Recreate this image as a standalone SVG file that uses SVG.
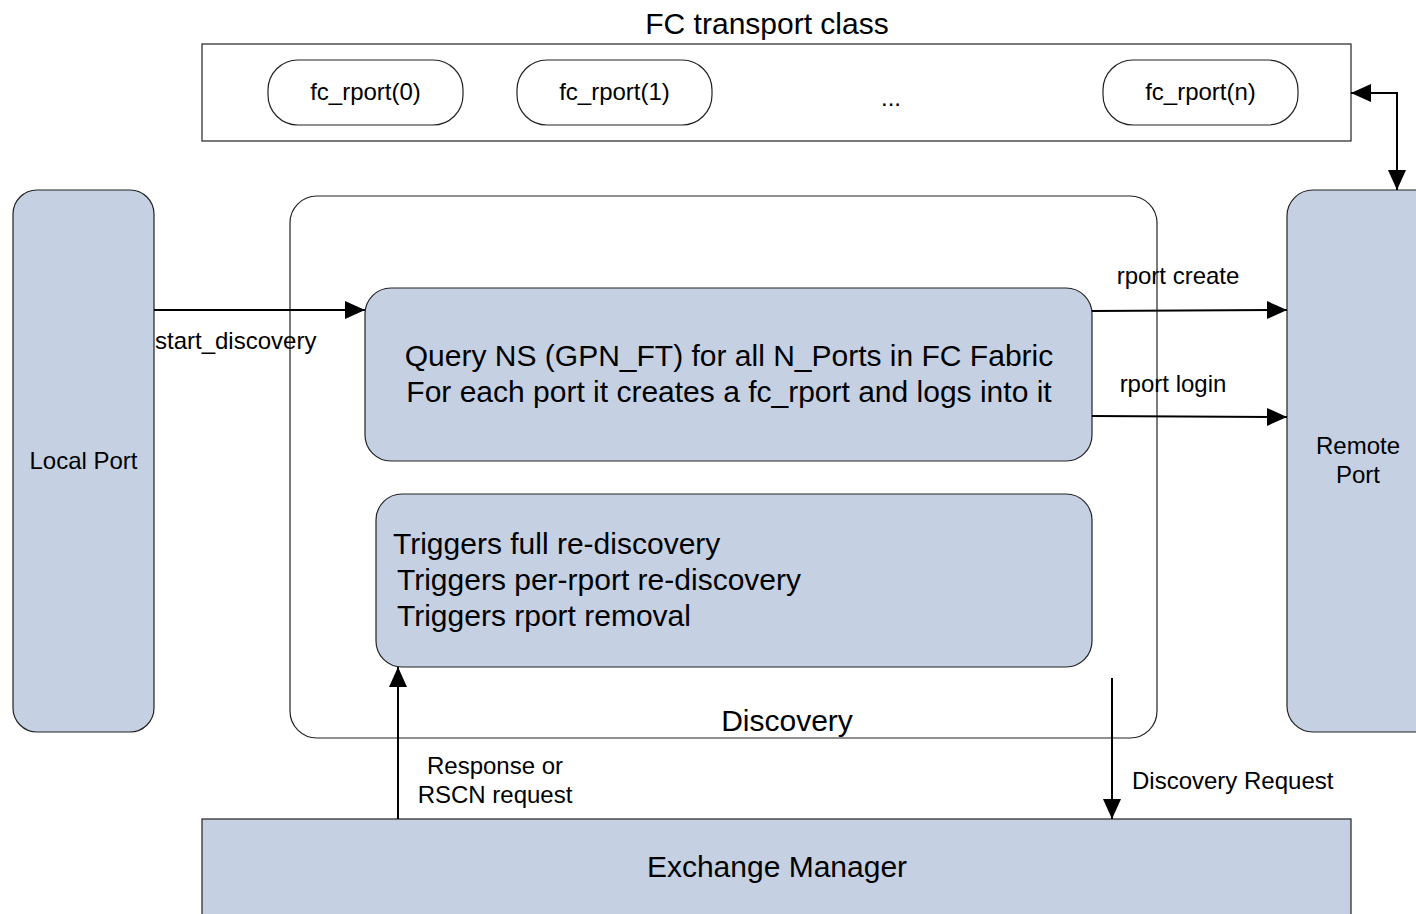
<svg xmlns="http://www.w3.org/2000/svg" width="1416" height="914" viewBox="0 0 1416 914">
<defs>
<style>
text{font-family:"Liberation Sans",Arial,sans-serif;fill:#000}
.box{fill:#c5d1e3;stroke:#222;stroke-width:1.2}
.wbox{fill:#fff;stroke:#222;stroke-width:1.2}
.conn{stroke:#000;stroke-width:2;fill:none}
.s17{font-size:24px}
.s22{font-size:30px}
</style>
<marker id="ahb" viewBox="0 0 20 20" refX="20" refY="10" markerWidth="20" markerHeight="20" markerUnits="userSpaceOnUse" orient="auto-start-reverse">
<path d="M0,1 L20,10 L0,19 Z" fill="#000"/>
</marker>
</defs>
<rect width="1416" height="914" fill="#fff"/>
<g id="fc-transport">
<text x="767" y="34" text-anchor="middle" class="s22">FC transport class</text>
<rect x="202" y="44" width="1149" height="97" class="wbox"/>
<text x="891" y="106" text-anchor="middle" class="s17">...</text>
</g>
<g id="fc_rport0"><rect x="268" y="60" width="195" height="65" rx="30" class="wbox"/><text x="365.5" y="100" text-anchor="middle" class="s17">fc_rport(0)</text></g>
<g id="fc_rport1"><rect x="517" y="60" width="195" height="65" rx="30" class="wbox"/><text x="614.5" y="100" text-anchor="middle" class="s17">fc_rport(1)</text></g>
<g id="fc_rportn"><rect x="1103" y="60" width="195" height="65" rx="30" class="wbox"/><text x="1200.5" y="100" text-anchor="middle" class="s17">fc_rport(n)</text></g>
<g id="local-port"><rect x="13" y="190" width="141" height="542" rx="24" class="box"/><text x="83.5" y="469" text-anchor="middle" class="s17">Local Port</text></g>
<g id="discovery"><rect x="290" y="196" width="867" height="542" rx="27" class="wbox"/><text x="787" y="731" text-anchor="middle" class="s22">Discovery</text></g>
<g id="query"><rect x="365" y="288" width="727" height="173" rx="26" class="box"/>
<text x="729" y="366" text-anchor="middle" class="s22">Query NS (GPN_FT) for all N_Ports in FC Fabric</text>
<text x="729" y="402" text-anchor="middle" class="s22">For each port it creates a fc_rport and logs into it</text></g>
<g id="triggers"><rect x="376" y="494" width="716" height="173" rx="26" class="box"/>
<text x="393" y="554" class="s22">Triggers full re-discovery</text>
<text x="397" y="590" class="s22">Triggers per-rport re-discovery</text>
<text x="397" y="626" class="s22">Triggers rport removal</text></g>
<g id="remote-port"><rect x="1287" y="190" width="160" height="542" rx="26" class="box"/><text x="1358" y="454" text-anchor="middle" class="s17">Remote</text><text x="1358" y="483" text-anchor="middle" class="s17">Port</text></g>
<g id="exchange-manager"><rect x="202" y="819" width="1149" height="110" class="box"/><text x="777" y="877" text-anchor="middle" class="s22">Exchange Manager</text></g>
<g id="connectors">
<path d="M1351,93 H1397 V190" class="conn" marker-start="url(#ahb)" marker-end="url(#ahb)"/>
<path d="M154,310 H365" class="conn" marker-end="url(#ahb)"/>
<path d="M1092,311 L1287,310" class="conn" marker-end="url(#ahb)"/>
<path d="M1092,416 L1287,417" class="conn" marker-end="url(#ahb)"/>
<path d="M398,819 V667" class="conn" marker-end="url(#ahb)"/>
<path d="M1112,678 V819" class="conn" marker-end="url(#ahb)"/>
<text x="155" y="349" class="s17">start_discovery</text>
<text x="1178" y="284" text-anchor="middle" class="s17">rport create</text>
<text x="1173" y="392" text-anchor="middle" class="s17">rport login</text>
<text x="495" y="774" text-anchor="middle" class="s17">Response or</text>
<text x="495" y="803" text-anchor="middle" class="s17">RSCN request</text>
<text x="1132" y="789" class="s17">Discovery Request</text>
</g>
</svg>
